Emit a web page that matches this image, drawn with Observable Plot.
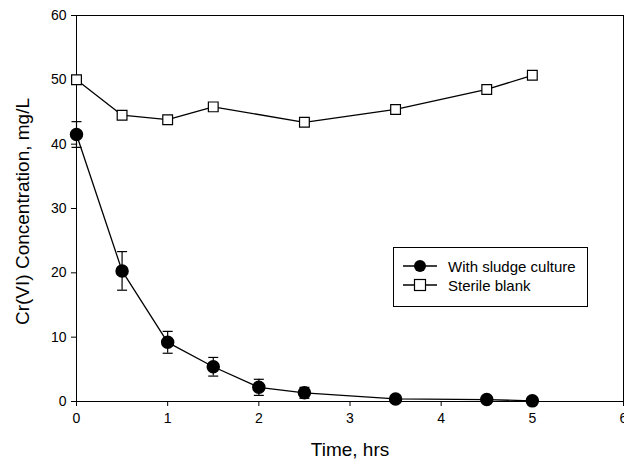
<!DOCTYPE html>
<html><head><meta charset="utf-8">
<script src="https://cdn.jsdelivr.net/npm/d3@7"></script>
<script src="https://cdn.jsdelivr.net/npm/@observablehq/plot@0.6"></script>
<style>
body{margin:0;background:#fff;font-family:Arial,"Liberation Sans",sans-serif;}
#wrap{position:relative;width:624px;height:468px;}
#legend{position:absolute;left:393px;top:247px;width:195px;height:60px;border:1px solid #000;background:#fff;box-sizing:border-box;font-size:15px;}
#legend .row{position:absolute;left:9px;height:16px;display:flex;align-items:center;}
#legend svg{margin-right:11px;}
</style>
</head><body>
<div id="wrap"><div id="chart"></div>
<div id="legend">
<div class="row" style="top:10px"><svg width="34" height="16"><line x1="0" y1="8" x2="34" y2="8" stroke="#000" stroke-width="1.3"/><circle cx="17" cy="8" r="6" fill="#000"/></svg>With sludge culture</div>
<div class="row" style="top:29px"><svg width="34" height="16"><line x1="0" y1="8" x2="34" y2="8" stroke="#000" stroke-width="1.3"/><rect x="11.5" y="2.5" width="11" height="11" fill="#fff" stroke="#000" stroke-width="1.2"/></svg>Sterile blank</div>
</div></div>
<script>
const sludgeTime = [0, 0.5, 1, 1.5, 2, 2.5, 3.5, 4.5, 5];
const sludgeConc = [41.5, 20.3, 9.2, 5.4, 2.2, 1.35, 0.4, 0.3, 0.1];
const sludgeErr  = [2.0, 3.0, 1.7, 1.45, 1.25, 0.85, 0, 0, 0];
const blankTime = [0, 0.5, 1, 1.5, 2.5, 3.5, 4.5, 5];
const blankConc = [50.0, 44.5, 43.8, 45.8, 43.4, 45.4, 48.5, 50.7];
const xTicks = [0, 1, 2, 3, 4, 5, 6];
const yTicks = [0, 10, 20, 30, 40, 50, 60];

const sludge = sludgeTime.map((t, i) => ({t, c: sludgeConc[i], lo: sludgeConc[i] - sludgeErr[i], hi: sludgeConc[i] + sludgeErr[i], e: sludgeErr[i]}));
const blank = blankTime.map((t, i) => ({t, c: blankConc[i]}));
const bars = sludge.filter(d => d.e > 0);

const cap = {draw(ctx) { ctx.moveTo(-5, 0); ctx.lineTo(5, 0); }};

const plot = Plot.plot({
  width: 624, height: 468,
  marginLeft: 76, marginTop: 15, marginRight: 1, marginBottom: 67,
  style: {fontFamily: "Arial, 'Liberation Sans', sans-serif", fontSize: "13px", color: "#000", background: "#fff"},
  x: {domain: [0, 6], label: null},
  y: {domain: [0, 60], label: null},
  marks: [
    Plot.frame({stroke: "#000"}),
    Plot.axisX({ticks: xTicks, tickFormat: d3.format("d"), tickSize: 5, tickPadding: 7, fontSize: 14, label: null}),
    Plot.axisY({ticks: yTicks, tickFormat: d3.format("d"), tickSize: 5, tickPadding: 5, fontSize: 14, label: null}),
    Plot.ruleX(bars, {x: "t", y1: "lo", y2: "hi", stroke: "#000", strokeWidth: 1.2}),
    Plot.dot(bars, {x: "t", y: "hi", symbol: cap, stroke: "#000", strokeWidth: 1.2}),
    Plot.dot(bars, {x: "t", y: "lo", symbol: cap, stroke: "#000", strokeWidth: 1.2}),
    Plot.line(sludge, {x: "t", y: "c", stroke: "#000", strokeWidth: 1.3}),
    Plot.dot(sludge, {x: "t", y: "c", r: 6, fill: "#000", stroke: "#000"}),
    Plot.line(blank, {x: "t", y: "c", stroke: "#000", strokeWidth: 1.3}),
    Plot.dot(blank, {x: "t", y: "c", symbol: "square", r: 5.5, fill: "#fff", stroke: "#000", strokeWidth: 1.2}),
    Plot.text(["Time, hrs"], {frameAnchor: "bottom", dy: 54, fontSize: 19, text: d => d}),
    Plot.text(["Cr(VI) Concentration, mg/L"], {frameAnchor: "left", textAnchor: "middle", dx: -54, dy: 3, rotate: -90, fontSize: 19, text: d => d})
  ]
});
document.getElementById("chart").appendChild(plot);
</script>
</body></html>
